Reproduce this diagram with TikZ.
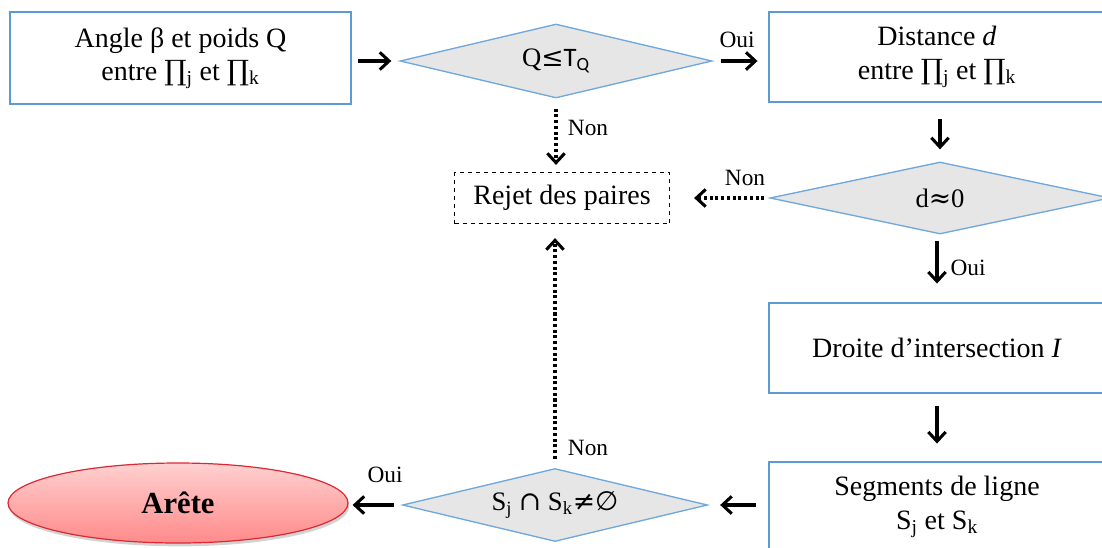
\documentclass[tikz,border=0pt]{standalone}
\usepackage{fontspec}
\setmainfont{Liberation Serif}
\newfontfamily\symf{DejaVu Serif}
\newfontfamily\symsf{DejaVu Sans}
\newfontfamily\sansf{Carlito}
\usetikzlibrary{shapes.geometric,arrows.meta,shadows}
\definecolor{boxblue}{RGB}{91,155,213}
\definecolor{diablue}{RGB}{111,168,220}
\definecolor{diafill}{RGB}{230,230,230}
\definecolor{elltop}{RGB}{255,208,208}
\definecolor{ellbot}{RGB}{255,138,138}
\definecolor{ellline}{RGB}{220,40,50}
\tikzset{
  stepbox/.style={draw=boxblue, line width=2.2pt, fill=white, align=center,
    font=\fontsize{21}{25}\selectfont},
  decide/.style={diamond, aspect=4, draw=diablue, line width=1pt, fill=diafill, align=center,
    inner sep=0pt, font=\fontsize{20}{25}\selectfont},
  rejbox/.style={draw=black, dashed, line width=0.9pt, align=center,
    minimum width=215*0.75pt, minimum height=51*0.75pt, font=\fontsize{21}{25}\selectfont},
  endell/.style={ellipse, draw=ellline, line width=0.9pt, top color=elltop, bottom color=ellbot,
    minimum width=340*0.75pt, minimum height=80*0.75pt, inner sep=0pt,
    drop shadow={shadow xshift=1pt, shadow yshift=-2.5pt, opacity=0.35},
    font=\fontsize{23}{25}\selectfont\bfseries},
  arr/.style={line width=2.3pt, -{Straight Barb[length=7pt,width=13pt,line width=2.3pt]}},
  darr/.style={line width=2.3pt, dotted, -{Straight Barb[length=7pt,width=13pt,line width=2.3pt]}},
  lbl/.style={font=\fontsize{17.5}{20}\selectfont, inner sep=0pt}
}
\begin{document}
\begin{tikzpicture}[x=0.75pt,y=-0.75pt]
\clip (0,0) rectangle (1102,547);
% nodes
\node[stepbox, minimum width=341*0.75pt, minimum height=92*0.75pt] (b1) at (180.5,58)
  {Angle β et poids Q\\entre {\symf ∏}\textsubscript{j} et {\symf ∏}\textsubscript{k}};
\node[decide, minimum width=312*0.75pt, minimum height=74*0.75pt] (d1) at (556,61)
  {Q{\symf ≤}{\sansf T\textsubscript{Q}}};
\node[stepbox, minimum width=336*0.75pt, minimum height=90*0.75pt] (b2) at (937,57)
  {Distance \textit{d}\\entre {\symf ∏}\textsubscript{j} et {\symf ∏}\textsubscript{k}};
\node[rejbox] (rej) at (562,198) {Rejet des paires};
\node[decide, minimum width=340*0.75pt, minimum height=72*0.75pt] (d2) at (940,198)
  {d{\symf ≈}0};
\node[stepbox, minimum width=336*0.75pt, minimum height=90*0.75pt] (b3) at (937,348)
  {Droite d’intersection \textit{I}};
\node[stepbox, minimum width=336*0.75pt, minimum height=90*0.75pt] (b4) at (937,507)
  {Segments de ligne\\S\textsubscript{j} et S\textsubscript{k}};
\node[decide, minimum width=305*0.75pt, minimum height=73*0.75pt] (d3) at (555,505)
  {S\textsubscript{j} {\symf ∩} S\textsubscript{k}{\symf ≠}{\symsf ∅}};
\node[endell] (ell) at (178,503) {Arête};
% labels
\node[lbl] (oui1) at (737,40) {Oui};
\node[lbl] (non1) at (588,128) {Non};
\node[lbl] (non2) at (745,178) {Non};
\node[lbl] (oui2) at (968,268) {Oui};
\node[lbl] (non3) at (588,448) {Non};
\node[lbl] (oui3) at (385,475) {Oui};
% connectors
\draw[arr, shorten <=6*0.75pt, shorten >=8*0.75pt] (b1.east |- d1.west) -- (d1.west);
\draw[arr, shorten <=8*0.75pt, shorten >=10*0.75pt] (d1.east) -- (b2.west |- d1.east);
\draw[arr, shorten <=16*0.75pt, shorten >=12*0.75pt] (b2.south -| d2.north) -- (d2.north);
\draw[darr, shorten <=10*0.75pt, shorten >=7*0.75pt] (d1.south -| rej.north) ++(-6,0) coordinate (t1) (t1) -- (t1 |- rej.north);
\draw[darr, shorten <=5*0.75pt, shorten >=24*0.75pt] (d2.west) -- (rej.east);
\draw[arr, shorten <=6*0.75pt, shorten >=18*0.75pt] (d2.south -| b3.north) -- (b3.north);
\draw[arr, shorten <=12*0.75pt, shorten >=17*0.75pt] (b3.south) -- (b4.north);
\draw[arr, shorten <=12*0.75pt, shorten >=12*0.75pt] (b4.west |- d3.east) -- (d3.east);
\draw[darr, shorten <=9*0.75pt, shorten >=14*0.75pt] (d3.north) -- (d3.north |- rej.south);
\draw[arr, shorten <=8*0.75pt, shorten >=4*0.75pt] (d3.west) -- (ell.east |- d3.west);
\end{tikzpicture}
\end{document}
